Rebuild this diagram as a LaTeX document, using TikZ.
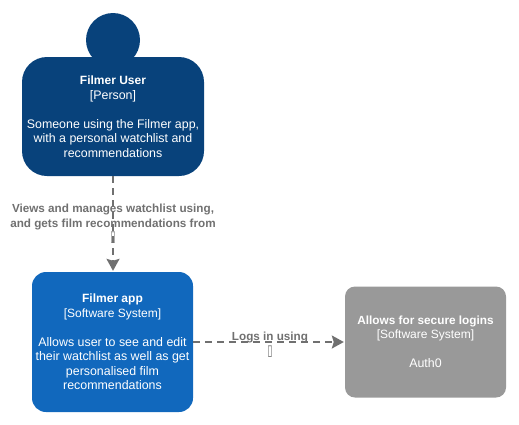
\documentclass[tikz,border=0pt]{standalone}
\usepackage{fontspec}
\setmainfont{Liberation Sans}
\newfontfamily\boxfont{DejaVu Sans}
\usetikzlibrary{arrows.meta}
\definecolor{persondark}{HTML}{08427B}
\definecolor{systemblue}{HTML}{1168BD}
\definecolor{externalgrey}{HTML}{999999}
\definecolor{relgrey}{HTML}{707070}
\newcommand{\missingglyph}{\scalebox{0.65}[1]{\boxfont\mdseries\fontsize{15}{14.5}\selectfont ▯}}
\newcommand{\cardkind}{{\fontsize{12}{14.5}\selectfont [Software System]}}
\tikzset{
  card/.style={align=center, text=white, font=\fontsize{12.4}{14.5}\selectfont, inner sep=0pt},
  rel/.style={draw=relgrey, line width=2pt, dash pattern=on 7pt off 5pt, shorten >=1pt, -{Stealth[length=12pt,width=13pt,inset=2pt]}},
  rellabel/.style={align=center, text=relgrey, font=\fontsize{11.7}{14.5}\selectfont\bfseries, inner sep=0pt}
}
\begin{document}
\begin{tikzpicture}[x=1pt, y=-1pt]
    \useasboundingbox (0, 0) rectangle (519, 424);
    \node[circle, fill=persondark, minimum size=54pt, inner sep=0pt] (userhead) at (113, 40) {};
    \node[card, rectangle, rounded corners=25pt, fill=persondark, minimum width=182pt, minimum height=119pt] (user) at (113, 116.5)
      {\textbf{\fontsize{12}{14.5}\selectfont Filmer User}\\\relax [Person]\\[14.5pt]Someone using the Filmer app,\\with a personal watchlist and\\recommendations};
    \node[card, rectangle, rounded corners=14pt, fill=systemblue, minimum width=161pt, minimum height=140pt] (app) at (112.5, 342)
      {\textbf{\fontsize{12}{14.5}\selectfont Filmer app}\\\cardkind\\[14.5pt]Allows user to see and edit\\their watchlist as well as get\\personalised film\\recommendations};
    \node[card, rectangle, rounded corners=10pt, fill=externalgrey, minimum width=161pt, minimum height=111pt] (authzero) at (425.5, 342)
      {\textbf{\fontsize{11.8}{14.5}\selectfont Allows for secure logins}\\\cardkind\\[14.5pt]Auth0};
    \draw[rel] (user.south -| userhead) -- (app.north -| userhead);
    \draw[rel] (app.east |- authzero) -- (authzero.west);
    \node[rellabel] (viewslabel) at (113, 224)
      {Views and manages watchlist using,\\and gets film recommendations from\\\missingglyph};
    \node[rellabel] (loginlabel) at (270, 344.5)
      {Logs in using\\\missingglyph};
\end{tikzpicture}
\end{document}
